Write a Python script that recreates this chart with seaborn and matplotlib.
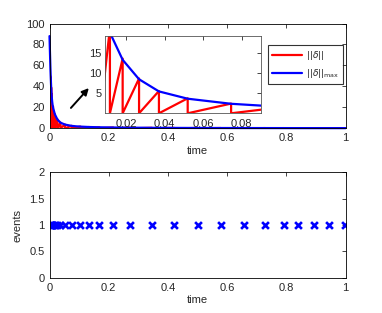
import numpy as np
import pandas as pd
import seaborn as sns
import matplotlib.pyplot as plt

# Dados lidos do gráfico
# curva ||delta||_max (azul)
t_max = [0.0, 0.001, 0.002, 0.003, 0.004, 0.005, 0.006, 0.0075, 0.009, 0.0105,
         0.0117, 0.0126, 0.0183, 0.0268, 0.0371, 0.052, 0.0745, 0.09, 0.104, 0.134,
         0.168, 0.215, 0.272, 0.346, 0.421, 0.501, 0.578, 0.655, 0.728, 0.79, 0.84,
         0.892, 0.944, 1.0]
delta_max = [88, 78, 68, 58, 50, 43, 37, 30, 25.5, 22, 20.5, 19, 13.2, 8.4, 5.4, 3.6,
             2.35, 1.9, 1.65, 1.25, 1.0, 0.8, 0.62, 0.5, 0.4, 0.34, 0.3, 0.26, 0.24,
             0.22, 0.2, 0.19, 0.18, 0.17]

# instantes de evento e valor de ||delta|| logo antes do reset
eventos = [0.0025, 0.0035, 0.0045, 0.0056, 0.0068, 0.0117, 0.0183, 0.0268, 0.0371,
           0.052, 0.0745, 0.104, 0.134, 0.168, 0.215, 0.272, 0.346, 0.421, 0.501,
           0.578, 0.655, 0.728, 0.79, 0.84, 0.892, 0.944, 0.997]
picos = [50, 48, 44, 39, 33, 21, 13.5, 8.6, 5.5, 3.7, 2.4, 1.7, 1.3, 1.0, 0.8,
         0.62, 0.5, 0.4, 0.34, 0.3, 0.26, 0.24, 0.22, 0.2, 0.19, 0.18, 0.17]
t_fim = 1.0
delta_fim = 0.01

# Monta a serra (sobe de 0 até o pico, cai para 0 no evento)
xs, ys = [0.0], [0.0]
for te, pk in zip(eventos, picos):
    xs += [te, te]
    ys += [pk, 0.0]
xs.append(t_fim)
ys.append(delta_fim)
df_delta = pd.DataFrame({'t': xs, 'delta': ys})
df_max = pd.DataFrame({'t': t_max, 'delta': delta_max})
df_ev = pd.DataFrame({'t': eventos, 'ev': [1] * len(eventos)})

sns.set_style('white')
plt.rcParams['font.family'] = ['Liberation Sans', 'DejaVu Sans']
plt.rcParams['mathtext.fontset'] = 'dejavusans'
plt.rcParams['xtick.direction'] = 'in'
plt.rcParams['ytick.direction'] = 'in'
plt.rcParams['xtick.major.size'] = 3
plt.rcParams['ytick.major.size'] = 3
plt.rcParams['font.size'] = 8

fig = plt.figure(figsize=(3.82, 3.13), dpi=100)
ax1 = fig.add_axes([0.1296, 0.590, 0.7754, 0.3348])
ax2 = fig.add_axes([0.1296, 0.1128, 0.7754, 0.3367])
axin = fig.add_axes([0.2741, 0.638, 0.4092, 0.246])

def estilo(ax, cor='black'):
    for s in ax.spines.values():
        s.set_color(cor)
        s.set_linewidth(0.6)
    ax.tick_params(top=True, right=True, labelsize=8, colors='#262626', width=0.6)

# Painel superior
sns.lineplot(data=df_delta, x='t', y='delta', ax=ax1, color='red', lw=1.6,
             sort=False, estimator=None, label=r'$||\delta||$')
sns.lineplot(data=df_max, x='t', y='delta', ax=ax1, color='blue', lw=1.6,
             sort=False, estimator=None, label=r'$||\delta||_{\max}$')
ax1.lines[-1].set_clip_on(False)  # deixa o início da curva azul visível junto ao eixo
ax1.set_xlim(0, 1)
ax1.set_ylim(0, 100)
ax1.set_xticks([0, 0.2, 0.4, 0.6, 0.8, 1])
ax1.set_xticklabels(['0', '0.2', '0.4', '0.6', '0.8', '1'])
ax1.set_yticks([0, 20, 40, 60, 80, 100])
ax1.set_xlabel('time', fontsize=8, labelpad=2)
ax1.set_ylabel('')
estilo(ax1)
leg = ax1.legend(loc='upper left', bbox_to_anchor=(267.7 / 382, 1 - 44.7 / 313),
                 bbox_transform=fig.transFigure, frameon=True, fancybox=False,
                 fontsize=6.5, handlelength=3.3, borderpad=0.5, labelspacing=0.5,
                 handletextpad=0.4, borderaxespad=0)
leg.get_frame().set_edgecolor('black')
leg.get_frame().set_linewidth(0.8)

ax1.annotate('', xy=(0.139, 0.404), xytext=(0.066, 0.175), xycoords='axes fraction',
             arrowprops=dict(arrowstyle='-|>', color='black', lw=1.4, mutation_scale=10))

# Inset
sns.lineplot(data=df_delta, x='t', y='delta', ax=axin, color='red', lw=1.6,
             sort=False, estimator=None, legend=False)
sns.lineplot(data=df_max, x='t', y='delta', ax=axin, color='blue', lw=1.6,
             sort=False, estimator=None, legend=False)
axin.set_xlim(0.009, 0.09)
axin.set_ylim(0, 19)
axin.set_xticks([0.02, 0.04, 0.06, 0.08])
axin.set_xticklabels(['0.02', '0.04', '0.06', '0.08'])
axin.set_yticks([5, 10, 15])
axin.set_xlabel('')
axin.set_ylabel('')
estilo(axin, cor='#555555')
axin.tick_params(axis='x', pad=4)
axin.tick_params(axis='y', pad=2)

# Painel inferior
sns.scatterplot(data=df_ev, x='t', y='ev', ax=ax2, marker='x', color='blue',
                s=24, linewidth=1.9)
ax2.set_xlim(0, 1)
ax2.set_ylim(0, 2)
ax2.set_xticks([0, 0.2, 0.4, 0.6, 0.8, 1])
ax2.set_xticklabels(['0', '0.2', '0.4', '0.6', '0.8', '1'])
ax2.set_yticks([0, 0.5, 1, 1.5, 2])
ax2.set_yticklabels(['0', '0.5', '1', '1.5', '2'])
ax2.set_xlabel('time', fontsize=8, labelpad=2)
ax2.set_ylabel('events', fontsize=8, labelpad=5)
estilo(ax2)

plt.savefig('out.png', dpi=100)
